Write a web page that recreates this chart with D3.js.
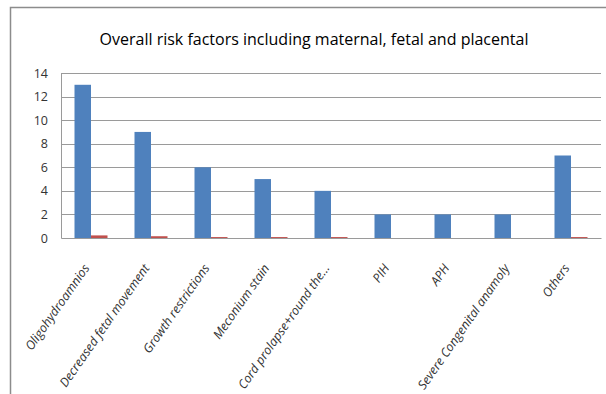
<!DOCTYPE html>
<html>
<head>
<meta charset="utf-8">
<script src="https://cdn.jsdelivr.net/npm/d3@7"></script>
<style>
  html, body { margin: 0; padding: 0; background: #fff; }
  svg { display: block; }
</style>
</head>
<body>
<div id="chart"></div>
<script>
// Risk factor categories and counts
const categories = [
  "Oligohydroamnios",
  "Decreased fetal movement",
  "Growth restrictions",
  "Meconium stain",
  "Cord prolapse+round the...",
  "PIH",
  "APH",
  "Severe Congenital anamoly",
  "Others"
];
const seriesCount = [13, 9, 6, 5, 4, 2, 2, 2, 7];
const seriesPercent = [0.22, 0.15, 0.08, 0.08, 0.08, 0, 0, 0, 0.08];
const yTicks = [0, 2, 4, 6, 8, 10, 12, 14];
const titleText = "Overall risk factors including maternal, fetal and placental";

const W = 606, H = 394;
const margin = { left: 61, right: 5, top: 73, bottom: H - 238 };

const svg = d3.select("#chart").append("svg")
  .attr("width", W).attr("height", H);

// chart frame
svg.append("path")
  .attr("d", `M10.5,${H + 5} V7.5 H${W + 5}`)
  .attr("fill", "none")
  .attr("stroke", "#8c8c8c")
  .attr("stroke-width", 1.5);

const x0 = d3.scaleBand()
  .domain(categories)
  .range([margin.left, W - margin.right])
  .paddingInner(0.45)
  .paddingOuter(0.225);

const x1 = d3.scaleBand()
  .domain(["count", "percent"])
  .range([0, x0.bandwidth()]);

const y = d3.scaleLinear()
  .domain([0, 14])
  .range([H - margin.bottom, margin.top]);

// gridlines
svg.append("g")
  .selectAll("line")
  .data(yTicks.filter(d => d > 0))
  .join("line")
  .attr("x1", margin.left).attr("x2", W - margin.right)
  .attr("y1", d => Math.round(y(d)) + 0.5).attr("y2", d => Math.round(y(d)) + 0.5)
  .attr("stroke", "#9a9a9a")
  .attr("stroke-width", 1);

// y axis
const yAxis = svg.append("g")
  .attr("transform", `translate(${margin.left},0)`)
  .call(d3.axisLeft(y).tickValues(yTicks).tickSize(0).tickPadding(13));
yAxis.select(".domain").attr("stroke", "#9a9a9a");
yAxis.selectAll("text")
  .attr("font-family", "'Open Sans', sans-serif")
  .attr("font-size", 12.5)
  .attr("fill", "#333");

// bars
const groups = svg.append("g")
  .selectAll("g")
  .data(categories.map((c, i) => ({ c, count: seriesCount[i], percent: seriesPercent[i] })))
  .join("g")
  .attr("transform", d => `translate(${x0(d.c)},0)`);

groups.append("rect")
  .attr("x", x1("count"))
  .attr("width", x1.bandwidth())
  .attr("y", d => y(d.count))
  .attr("height", d => y(0) - y(d.count))
  .attr("fill", "#4f81bd");

groups.append("rect")
  .attr("x", x1("percent"))
  .attr("width", x1.bandwidth())
  .attr("y", d => y(d.percent))
  .attr("height", d => y(0) - y(d.percent))
  .attr("fill", "#c0504d");

// x axis
const xAxis = svg.append("g")
  .attr("transform", `translate(0,${y(0)})`)
  .call(d3.axisBottom(x0).tickSize(0).tickFormat(""));
xAxis.select(".domain").attr("stroke", "#9a9a9a");

// rotated category labels
svg.append("g")
  .selectAll("text")
  .data(categories)
  .join("text")
  .attr("transform", d => `translate(${x0(d) + x0.bandwidth() / 2 - 1},${y(0) + 30}) rotate(-55)`)
  .attr("text-anchor", "end")
  .attr("font-family", "'Open Sans', sans-serif")
  .attr("font-style", "italic")
  .attr("font-size", 12.5)
  .attr("fill", "#333")
  .text(d => d);

// title
svg.append("text")
  .attr("x", 314)
  .attr("y", 45)
  .attr("text-anchor", "middle")
  .attr("font-family", "'Open Sans', sans-serif")
  .attr("font-size", 16)
  .attr("fill", "#000")
  .text(titleText);
</script>
</body>
</html>
